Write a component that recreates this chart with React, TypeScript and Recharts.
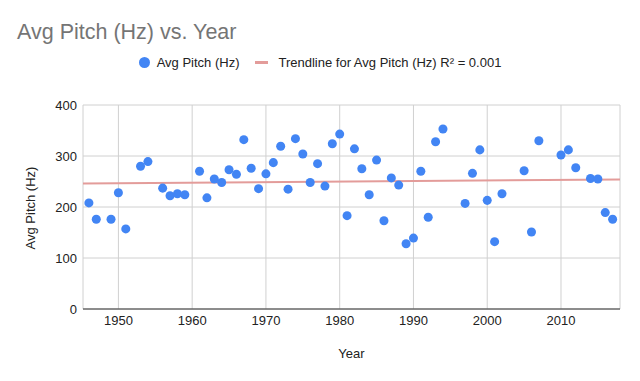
import React from 'react';
import {
  ScatterChart,
  Scatter,
  XAxis,
  YAxis,
  ZAxis,
  CartesianGrid,
  Legend,
  Label
} from 'recharts';

const years = [
  1946, 1947, 1949, 1950, 1951, 1953, 1954, 1956, 1957, 1958, 1959,
  1961, 1962, 1963, 1964, 1965, 1966, 1967, 1968, 1969, 1970,
  1971, 1972, 1973, 1974, 1975, 1976, 1977, 1978, 1979, 1980,
  1981, 1982, 1983, 1984, 1985, 1986, 1987, 1988, 1989, 1990,
  1991, 1992, 1993, 1994, 1997, 1998, 1999, 2000, 2001, 2002,
  2005, 2006, 2007, 2010, 2011, 2012, 2014, 2015, 2016, 2017
];

const avgPitch = [
  208, 176, 176, 228, 157, 280, 289, 237, 222, 226, 224,
  270, 218, 255, 248, 273, 264, 332, 276, 236, 265,
  287, 319, 235, 334, 304, 248, 285, 241, 324, 343,
  183, 314, 275, 224, 292, 173, 257, 243, 128, 139,
  270, 180, 328, 353, 207, 266, 312, 213, 132, 226,
  271, 151, 330, 302, 312, 277, 256, 255, 189, 176
];

// trendline ends
const trendYears = [1945.2, 2018];
const trendValues = [246, 254];

const xTicks = [1950, 1960, 1970, 1980, 1990, 2000, 2010];
const yTicks = [0, 100, 200, 300, 400];

const points = years.map((year, i) => ({ year, pitch: avgPitch[i] }));
const trend = trendYears.map((year, i) => ({ year, pitch: trendValues[i] }));

const FONT = 'Arial, "Liberation Sans", sans-serif';
const BLUE = '#4285f4';
const TREND = '#e39c9a';

const ChartLegend = () => (
  <div style={{
    display: 'flex',
    justifyContent: 'center',
    alignItems: 'center',
    fontFamily: FONT,
    fontSize: '13px',
    color: '#222',
    width: '640px'
  }}>
    <span style={{ width: 11, height: 11, borderRadius: '50%', background: BLUE, display: 'inline-block', marginRight: 7 }} />
    <span style={{ marginRight: 16 }}>Avg Pitch (Hz)</span>
    <span style={{ width: 13, height: 3, background: TREND, display: 'inline-block', marginRight: 10 }} />
    <span>Trendline for Avg Pitch (Hz) R² = 0.001</span>
  </div>
);

export default function App() {
  return (
    <div style={{ position: 'absolute', left: 0, top: 0, width: 640, height: 381, background: '#fff', fontFamily: FONT }}>
      <div style={{
        position: 'absolute',
        left: 17,
        top: 18,
        fontSize: '21.5px',
        color: '#757575',
        lineHeight: '28px',
        whiteSpace: 'nowrap'
      }}>
        Avg Pitch (Hz) vs. Year
      </div>
      <ScatterChart width={640} height={381} margin={{ top: 90, right: 20, bottom: 0, left: 0 }}>
        <CartesianGrid stroke="#d0d0d0" />
        <XAxis
          type="number"
          dataKey="year"
          domain={[1945.2, 2018]}
          ticks={xTicks}
          allowDataOverflow
          height={72}
          tickLine={false}
          tickSize={6}
          tickMargin={1}
          axisLine={{ stroke: '#333' }}
          tick={{ fontSize: 13, fill: '#222', fontFamily: FONT }}
        >
          <Label
            content={() => (
              <text x={351.5} y={358} textAnchor="middle" fontSize={13} fill="#222" fontFamily={FONT}>Year</text>
            )}
          />
        </XAxis>
        <YAxis
          type="number"
          dataKey="pitch"
          domain={[0, 400]}
          ticks={yTicks}
          width={83}
          tickLine={false}
          axisLine={false}
          tickSize={6}
          tickMargin={0}
          tick={{ fontSize: 13, fill: '#222', fontFamily: FONT }}
        >
          <Label
            content={() => (
              <text
                x={0}
                y={0}
                transform="translate(35, 208) rotate(-90)"
                textAnchor="middle"
                fontSize={13}
                fill="#222"
                fontFamily={FONT}
              >
                Avg Pitch (Hz)
              </text>
            )}
          />
        </YAxis>
        <ZAxis range={[90, 90]} />
        <Legend
          verticalAlign="top"
          content={() => <ChartLegend />}
          wrapperStyle={{ top: 55, left: 0, width: 640 }}
        />
        <Scatter
          name="Trendline"
          data={trend}
          line={{ stroke: TREND, strokeWidth: 2 }}
          shape={() => <g />}
          isAnimationActive={false}
        />
        <Scatter
          name="Avg Pitch (Hz)"
          data={points}
          fill={BLUE}
          shape="circle"
          isAnimationActive={false}
        />
      </ScatterChart>
    </div>
  );
}
